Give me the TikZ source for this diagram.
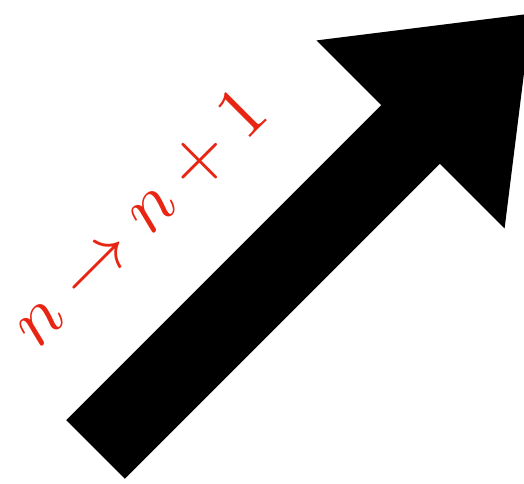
\documentclass[tikz,border=0pt]{standalone}
\usetikzlibrary{math}
\definecolor{myred}{RGB}{232,36,18}
\begin{document}
\begin{tikzpicture}[x=0.2mm,y=0.2mm]
\tikzmath{
\sw=41.5;
\hwid=133;
\slen=445.5;
\hlen=171;
}
\useasboundingbox (0,0) rectangle (524,484);
\clip (0,0) rectangle (524,484);

\begin{scope}[shift={(95.5,34.5)},rotate=45]
\fill (0,-\sw) -- (\slen,-\sw) -- (\slen,-\hwid) -- (\slen+\hlen,0) -- (\slen,\hwid) -- (\slen,\sw) -- (0,\sw) -- cycle;
\node[myred, scale=4.2, transform shape] (lbl) at (194.5,132) {$n \to n+1$};
\end{scope}
\end{tikzpicture}
\end{document}
